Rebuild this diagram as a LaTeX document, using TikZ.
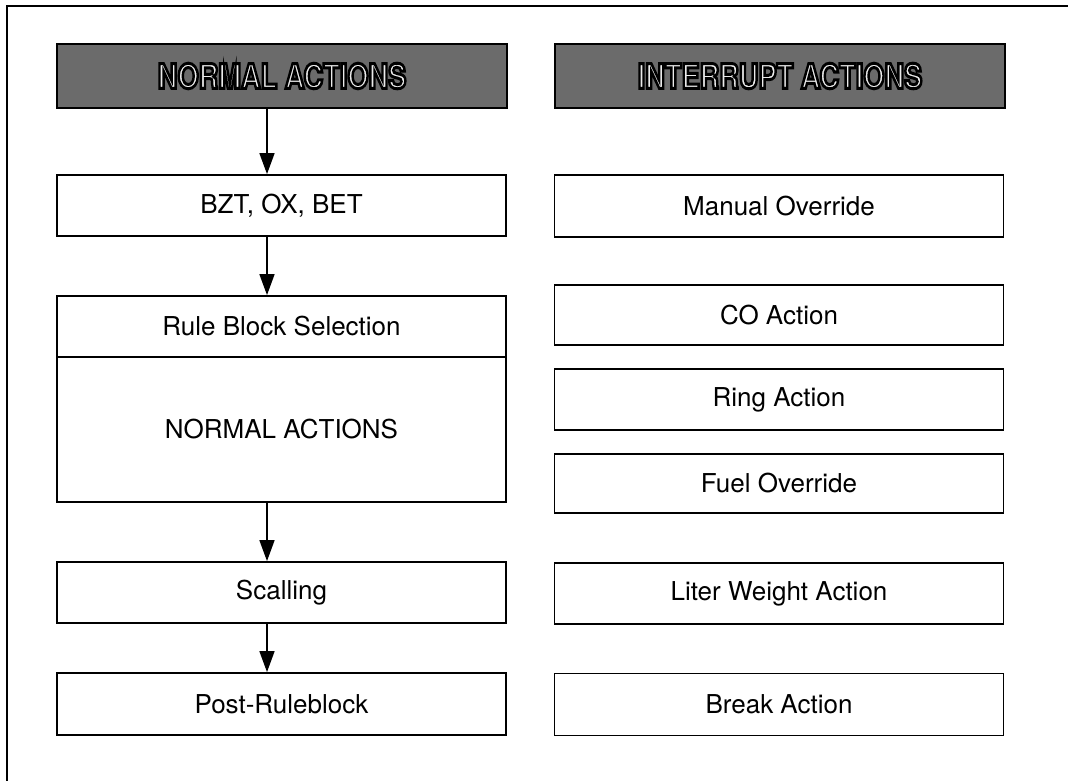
\documentclass[tikz,border=0pt]{standalone}
\usepackage{fontspec}
\setmainfont{TeX Gyre Heros}
\usetikzlibrary{arrows.meta}
% light letters with a heavy black outline (fill-then-stroke text rendering)
\newcommand{\hdrtext}[1]{{\color{black!8}\special{pdf:literal direct 2 Tr 3 w 0 G}#1\special{pdf:literal direct 0 Tr}}}
\begin{document}
\begin{tikzpicture}[x=1pt,y=-1pt,
  box/.style={draw=black,line width=1.8pt,minimum width=449pt,inner sep=0pt,
    font=\fontsize{26}{30}\selectfont},
  hdr/.style={draw=black,line width=2.2pt,fill=black!58,minimum width=450pt,
    minimum height=64pt,inner sep=0pt,font=\bfseries\fontsize{34}{38}\selectfont},
  arr/.style={line width=1.6pt,-{Triangle[length=21pt,width=15pt]}},
  frame/.style={line width=2pt}]
\useasboundingbox (0,0) rectangle (1068,781);
% outer frame
\draw[frame] (7,800) -- (7,6) -- (1090,6);

% column headers
\node[hdr] (hL) at (282,76) {\scalebox{0.8}[1]{\hdrtext{NORMAL ACTIONS}}};
\node[hdr] (hR) at (780,76) {\scalebox{0.8}[1]{\hdrtext{INTERRUPT ACTIONS}}};

% normal action chain
\node[box,minimum height=61pt] (bzt) at (281.5,205.5) {BZT, OX, BET};
\node[box,minimum height=61pt] (sel) at (281.5,326.5) {Rule Block Selection};
\node[box,minimum height=145pt] (na) at (281.5,429.5) {NORMAL ACTIONS};
\node[box,minimum height=61pt] (scal) at (281.5,592.5) {Scalling};
\node[box,minimum height=62pt] (post) at (281.5,704) {Post-Ruleblock};

% interrupt actions
\node[box,minimum height=62pt] (man) at (779,206) {Manual Override};
\node[box,minimum height=60pt] (co) at (779,315) {CO Action};
\node[box,minimum height=61pt] (ring) at (779,399.5) {Ring Action};
\node[box,minimum height=59pt] (fuel) at (779,483.5) {Fuel Override};
\node[box,minimum height=61pt] (liter) at (779,593.5) {Liter Weight Action};
\node[box,minimum height=62pt] (brk) at (779,704.5) {Break Action};

% flow arrows
\coordinate (ax) at (267,0);
\draw[arr] (hL.south -| ax) -- (bzt.north -| ax);
\draw[arr] (bzt.south -| ax) -- (sel.north -| ax);
\draw[arr] (na.south -| ax) -- (scal.north -| ax);
\draw[arr] (scal.south -| ax) -- (post.north -| ax);
\end{tikzpicture}
\end{document}
